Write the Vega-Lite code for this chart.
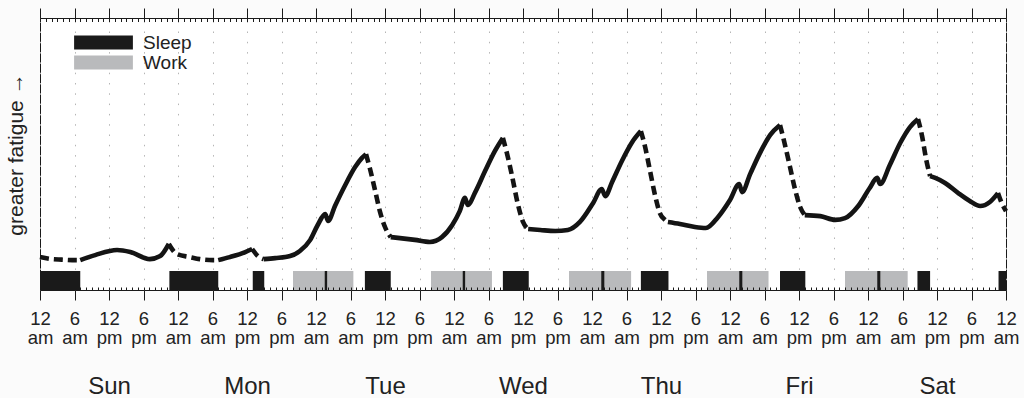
{
  "$schema": "https://vega.github.io/schema/vega-lite/v6.json",
  "background": "#fbfbfb",
  "padding": {"left": 5, "top": 7, "right": 5, "bottom": 0},
  "width": 966,
  "height": 272,
  "config": {
    "font": "Liberation Sans",
    "view": {"stroke": "#1a1a1a", "strokeWidth": 1, "fill": "white"},
    "axis": {"tickColor": "#1a1a1a", "tickWidth": 1, "domain": false, "labelColor": "#222", "titleColor": "#222", "titleFontWeight": "normal", "labelFont": "Liberation Sans", "titleFont": "Liberation Sans"}
  },
  "datasets": {
    "fatigue": [
      {"hour": 0, "fatigue": 0.55, "segment": 1, "state": "asleep"},
      {"hour": 2.1, "fatigue": 0.47, "segment": 1, "state": "asleep"},
      {"hour": 3.8, "fatigue": 0.45, "segment": 1, "state": "asleep"},
      {"hour": 5.6, "fatigue": 0.43, "segment": 1, "state": "asleep"},
      {"hour": 7, "fatigue": 0.43, "segment": 1, "state": "asleep"},
      {"hour": 7, "fatigue": 0.43, "segment": 2, "state": "awake"},
      {"hour": 9.6, "fatigue": 0.63, "segment": 2, "state": "awake"},
      {"hour": 13.4, "fatigue": 0.83, "segment": 2, "state": "awake"},
      {"hour": 15.7, "fatigue": 0.75, "segment": 2, "state": "awake"},
      {"hour": 19.1, "fatigue": 0.47, "segment": 2, "state": "awake"},
      {"hour": 20.9, "fatigue": 0.59, "segment": 2, "state": "awake"},
      {"hour": 22.4, "fatigue": 1.07, "segment": 2, "state": "awake"},
      {"hour": 22.4, "fatigue": 1.07, "segment": 3, "state": "asleep"},
      {"hour": 23.8, "fatigue": 0.67, "segment": 3, "state": "asleep"},
      {"hour": 26.1, "fatigue": 0.55, "segment": 3, "state": "asleep"},
      {"hour": 27.8, "fatigue": 0.47, "segment": 3, "state": "asleep"},
      {"hour": 30.1, "fatigue": 0.43, "segment": 3, "state": "asleep"},
      {"hour": 31, "fatigue": 0.43, "segment": 3, "state": "asleep"},
      {"hour": 31, "fatigue": 0.43, "segment": 4, "state": "awake"},
      {"hour": 33, "fatigue": 0.55, "segment": 4, "state": "awake"},
      {"hour": 35.7, "fatigue": 0.75, "segment": 4, "state": "awake"},
      {"hour": 36.9, "fatigue": 0.87, "segment": 4, "state": "awake"},
      {"hour": 36.9, "fatigue": 0.87, "segment": 5, "state": "asleep"},
      {"hour": 37.9, "fatigue": 0.59, "segment": 5, "state": "asleep"},
      {"hour": 38.9, "fatigue": 0.47, "segment": 5, "state": "asleep"},
      {"hour": 38.9, "fatigue": 0.47, "segment": 6, "state": "awake"},
      {"hour": 40.9, "fatigue": 0.51, "segment": 6, "state": "awake"},
      {"hour": 43.5, "fatigue": 0.59, "segment": 6, "state": "awake"},
      {"hour": 45.2, "fatigue": 0.79, "segment": 6, "state": "awake"},
      {"hour": 47, "fatigue": 1.23, "segment": 6, "state": "awake"},
      {"hour": 48.3, "fatigue": 1.82, "segment": 6, "state": "awake"},
      {"hour": 49.6, "fatigue": 2.25, "segment": 6, "state": "awake"},
      {"hour": 50.1, "fatigue": 1.98, "segment": 6, "state": "awake"},
      {"hour": 51.3, "fatigue": 2.57, "segment": 6, "state": "awake"},
      {"hour": 53, "fatigue": 3.36, "segment": 6, "state": "awake"},
      {"hour": 54.8, "fatigue": 4.11, "segment": 6, "state": "awake"},
      {"hour": 56, "fatigue": 4.47, "segment": 6, "state": "awake"},
      {"hour": 56.7, "fatigue": 4.62, "segment": 6, "state": "awake"},
      {"hour": 56.7, "fatigue": 4.62, "segment": 7, "state": "asleep"},
      {"hour": 57.4, "fatigue": 4.03, "segment": 7, "state": "asleep"},
      {"hour": 58.3, "fatigue": 3.16, "segment": 7, "state": "asleep"},
      {"hour": 59.1, "fatigue": 2.37, "segment": 7, "state": "asleep"},
      {"hour": 60, "fatigue": 1.74, "segment": 7, "state": "asleep"},
      {"hour": 61, "fatigue": 1.34, "segment": 7, "state": "asleep"},
      {"hour": 61, "fatigue": 1.34, "segment": 8, "state": "awake"},
      {"hour": 62.6, "fatigue": 1.30, "segment": 8, "state": "awake"},
      {"hour": 65.2, "fatigue": 1.23, "segment": 8, "state": "awake"},
      {"hour": 67.8, "fatigue": 1.15, "segment": 8, "state": "awake"},
      {"hour": 69.9, "fatigue": 1.34, "segment": 8, "state": "awake"},
      {"hour": 71.7, "fatigue": 1.82, "segment": 8, "state": "awake"},
      {"hour": 73, "fatigue": 2.37, "segment": 8, "state": "awake"},
      {"hour": 73.9, "fatigue": 2.89, "segment": 8, "state": "awake"},
      {"hour": 74.4, "fatigue": 2.61, "segment": 8, "state": "awake"},
      {"hour": 75.7, "fatigue": 3.12, "segment": 8, "state": "awake"},
      {"hour": 77.4, "fatigue": 3.95, "segment": 8, "state": "awake"},
      {"hour": 79.1, "fatigue": 4.74, "segment": 8, "state": "awake"},
      {"hour": 80.5, "fatigue": 5.26, "segment": 8, "state": "awake"},
      {"hour": 80.5, "fatigue": 5.26, "segment": 9, "state": "asleep"},
      {"hour": 81.2, "fatigue": 4.66, "segment": 9, "state": "asleep"},
      {"hour": 82.1, "fatigue": 3.75, "segment": 9, "state": "asleep"},
      {"hour": 83.1, "fatigue": 2.65, "segment": 9, "state": "asleep"},
      {"hour": 84, "fatigue": 1.94, "segment": 9, "state": "asleep"},
      {"hour": 84.9, "fatigue": 1.66, "segment": 9, "state": "asleep"},
      {"hour": 84.9, "fatigue": 1.66, "segment": 10, "state": "awake"},
      {"hour": 87, "fatigue": 1.62, "segment": 10, "state": "awake"},
      {"hour": 89.6, "fatigue": 1.58, "segment": 10, "state": "awake"},
      {"hour": 91.8, "fatigue": 1.62, "segment": 10, "state": "awake"},
      {"hour": 93.9, "fatigue": 1.94, "segment": 10, "state": "awake"},
      {"hour": 96.2, "fatigue": 2.69, "segment": 10, "state": "awake"},
      {"hour": 97.7, "fatigue": 3.24, "segment": 10, "state": "awake"},
      {"hour": 98.3, "fatigue": 2.96, "segment": 10, "state": "awake"},
      {"hour": 99.5, "fatigue": 3.52, "segment": 10, "state": "awake"},
      {"hour": 101.2, "fatigue": 4.35, "segment": 10, "state": "awake"},
      {"hour": 103, "fatigue": 5.10, "segment": 10, "state": "awake"},
      {"hour": 104.5, "fatigue": 5.53, "segment": 10, "state": "awake"},
      {"hour": 104.5, "fatigue": 5.53, "segment": 11, "state": "asleep"},
      {"hour": 105.2, "fatigue": 4.94, "segment": 11, "state": "asleep"},
      {"hour": 106.1, "fatigue": 3.95, "segment": 11, "state": "asleep"},
      {"hour": 107, "fatigue": 2.96, "segment": 11, "state": "asleep"},
      {"hour": 107.8, "fatigue": 2.29, "segment": 11, "state": "asleep"},
      {"hour": 108.7, "fatigue": 2.02, "segment": 11, "state": "asleep"},
      {"hour": 109.2, "fatigue": 1.94, "segment": 11, "state": "asleep"},
      {"hour": 109.2, "fatigue": 1.94, "segment": 12, "state": "awake"},
      {"hour": 111.3, "fatigue": 1.86, "segment": 12, "state": "awake"},
      {"hour": 113.9, "fatigue": 1.74, "segment": 12, "state": "awake"},
      {"hour": 115.8, "fatigue": 1.70, "segment": 12, "state": "awake"},
      {"hour": 117.9, "fatigue": 2.13, "segment": 12, "state": "awake"},
      {"hour": 120, "fatigue": 2.81, "segment": 12, "state": "awake"},
      {"hour": 121.6, "fatigue": 3.44, "segment": 12, "state": "awake"},
      {"hour": 122.1, "fatigue": 3.12, "segment": 12, "state": "awake"},
      {"hour": 123.5, "fatigue": 3.83, "segment": 12, "state": "awake"},
      {"hour": 125.2, "fatigue": 4.66, "segment": 12, "state": "awake"},
      {"hour": 127, "fatigue": 5.38, "segment": 12, "state": "awake"},
      {"hour": 128.7, "fatigue": 5.77, "segment": 12, "state": "awake"},
      {"hour": 128.7, "fatigue": 5.77, "segment": 13, "state": "asleep"},
      {"hour": 129.4, "fatigue": 5.14, "segment": 13, "state": "asleep"},
      {"hour": 130.4, "fatigue": 4.15, "segment": 13, "state": "asleep"},
      {"hour": 131.3, "fatigue": 3.24, "segment": 13, "state": "asleep"},
      {"hour": 132.2, "fatigue": 2.53, "segment": 13, "state": "asleep"},
      {"hour": 133, "fatigue": 2.21, "segment": 13, "state": "asleep"},
      {"hour": 133, "fatigue": 2.21, "segment": 14, "state": "awake"},
      {"hour": 135.7, "fatigue": 2.17, "segment": 14, "state": "awake"},
      {"hour": 138.3, "fatigue": 2.02, "segment": 14, "state": "awake"},
      {"hour": 140, "fatigue": 2.09, "segment": 14, "state": "awake"},
      {"hour": 142.3, "fatigue": 2.57, "segment": 14, "state": "awake"},
      {"hour": 144.3, "fatigue": 3.28, "segment": 14, "state": "awake"},
      {"hour": 145.6, "fatigue": 3.68, "segment": 14, "state": "awake"},
      {"hour": 146.1, "fatigue": 3.44, "segment": 14, "state": "awake"},
      {"hour": 147.8, "fatigue": 4.19, "segment": 14, "state": "awake"},
      {"hour": 149.6, "fatigue": 5.06, "segment": 14, "state": "awake"},
      {"hour": 151.3, "fatigue": 5.69, "segment": 14, "state": "awake"},
      {"hour": 152.7, "fatigue": 6.01, "segment": 14, "state": "awake"},
      {"hour": 152.7, "fatigue": 6.01, "segment": 15, "state": "asleep"},
      {"hour": 153.4, "fatigue": 5.34, "segment": 15, "state": "asleep"},
      {"hour": 154.1, "fatigue": 4.43, "segment": 15, "state": "asleep"},
      {"hour": 154.8, "fatigue": 3.75, "segment": 15, "state": "asleep"},
      {"hour": 154.8, "fatigue": 3.75, "segment": 16, "state": "awake"},
      {"hour": 155.7, "fatigue": 3.68, "segment": 16, "state": "awake"},
      {"hour": 157.4, "fatigue": 3.48, "segment": 16, "state": "awake"},
      {"hour": 159.7, "fatigue": 3.08, "segment": 16, "state": "awake"},
      {"hour": 161.7, "fatigue": 2.77, "segment": 16, "state": "awake"},
      {"hour": 163.5, "fatigue": 2.57, "segment": 16, "state": "awake"},
      {"hour": 165.2, "fatigue": 2.73, "segment": 16, "state": "awake"},
      {"hour": 166.6, "fatigue": 3.08, "segment": 16, "state": "awake"},
      {"hour": 166.6, "fatigue": 3.08, "segment": 17, "state": "asleep"},
      {"hour": 167.1, "fatigue": 2.77, "segment": 17, "state": "asleep"},
      {"hour": 168, "fatigue": 2.37, "segment": 17, "state": "asleep"}
    ],
    "activity": [
      {"start": 0, "end": 7, "activity": "Sleep"},
      {"start": 22.5, "end": 31, "activity": "Sleep"},
      {"start": 37, "end": 39, "activity": "Sleep"},
      {"start": 44, "end": 49.5, "activity": "Work"},
      {"start": 49.5, "end": 50, "activity": "Sleep"},
      {"start": 50, "end": 54.5, "activity": "Work"},
      {"start": 56.5, "end": 61, "activity": "Sleep"},
      {"start": 68, "end": 73.5, "activity": "Work"},
      {"start": 73.5, "end": 74, "activity": "Sleep"},
      {"start": 74, "end": 78.6, "activity": "Work"},
      {"start": 80.5, "end": 85, "activity": "Sleep"},
      {"start": 92, "end": 97.6, "activity": "Work"},
      {"start": 97.6, "end": 98.2, "activity": "Sleep"},
      {"start": 98.2, "end": 102.8, "activity": "Work"},
      {"start": 104.5, "end": 109.3, "activity": "Sleep"},
      {"start": 116, "end": 121.6, "activity": "Work"},
      {"start": 121.6, "end": 122.2, "activity": "Sleep"},
      {"start": 122.2, "end": 126.7, "activity": "Work"},
      {"start": 128.7, "end": 133.1, "activity": "Sleep"},
      {"start": 140, "end": 145.6, "activity": "Work"},
      {"start": 145.6, "end": 146.2, "activity": "Sleep"},
      {"start": 146.2, "end": 150.9, "activity": "Work"},
      {"start": 152.6, "end": 154.8, "activity": "Sleep"},
      {"start": 166.7, "end": 168, "activity": "Sleep"}
    ]
  },
  "resolve": {"axis": {"x": "independent"}},
  "layer": [
    {
      "data": {"name": "activity"},
      "mark": {"type": "rect"},
      "encoding": {
        "x": {
          "field": "start", "type": "quantitative",
          "scale": {"domain": [0, 168], "nice": false, "zero": false},
          "axis": {"orient": "bottom", "values": [0, 6, 12, 18, 24, 30, 36, 42, 48, 54, 60, 66, 72, 78, 84, 90, 96, 102, 108, 114, 120, 126, 132, 138, 144, 150, 156, 162, 168], "tickSize": 10, "grid": false, "title": null, "labelFontSize": 18.5, "labelLineHeight": 19, "labelPadding": 9, "labelFlush": false, "labelOverlap": false, "labelBaseline": "top", "labelExpr": "[datum.value % 12 == 0 ? '12' : '6', datum.value % 24 < 12 ? 'am' : 'pm']"}
        },
        "x2": {"field": "end"},
        "y": {
          "datum": 0, "type": "quantitative",
          "scale": {"domain": [-0.75, 10], "nice": false, "zero": false},
          "axis": {"title": "greater fatigue \u2192", "ticks": false, "labels": false, "grid": false, "titleFontSize": 21, "titlePadding": 14}
        },
        "y2": {"datum": -0.75},
        "color": {
          "field": "activity", "type": "nominal",
          "scale": {"domain": ["Sleep", "Work"], "range": ["#1a1a1a", "#b9babc"]},
          "legend": {"orient": "none", "legendX": 54, "legendY": 15, "title": null, "symbolType": "M-4.2,-1H4.2V1H-4.2Z", "symbolSize": 196, "symbolStrokeWidth": 0, "symbolOpacity": 1, "labelFontSize": 19, "labelColor": "#222", "labelOffset": 30, "rowPadding": 0, "padding": 0}
        }
      }
    },
    {
      "data": {"name": "fatigue"},
      "transform": [{"filter": "datum.state == 'awake'"}],
      "mark": {"type": "line", "color": "#141414", "strokeWidth": 4.6, "interpolate": "monotone", "strokeCap": "butt", "strokeJoin": "round"},
      "encoding": {
        "x": {
          "field": "hour", "type": "quantitative",
          "axis": {"orient": "top", "values": [0, 6, 12, 18, 24, 30, 36, 42, 48, 54, 60, 66, 72, 78, 84, 90, 96, 102, 108, 114, 120, 126, 132, 138, 144, 150, 156, 162, 168], "tickSize": 10, "labels": false, "grid": true, "gridDash": [1.5, 8.8], "gridColor": "#b5b5b5", "gridWidth": 1, "title": null}
        },
        "y": {
          "field": "fatigue", "type": "quantitative",
          "axis": {"title": "greater fatigue \u2192", "ticks": false, "labels": false, "grid": false, "titleFontSize": 21, "titlePadding": 14}
        },
        "detail": {"field": "segment"}
      }
    },
    {
      "data": {"name": "fatigue"},
      "transform": [{"filter": "datum.state == 'asleep'"}],
      "mark": {"type": "line", "color": "#141414", "strokeWidth": 4.6, "interpolate": "monotone", "strokeCap": "butt", "strokeDash": [9, 5]},
      "encoding": {
        "x": {
          "field": "hour", "type": "quantitative",
          "axis": {"orient": "top", "values": [0,1,2,3,4,5,6,7,8,9,10,11,12,13,14,15,16,17,18,19,20,21,22,23,24,25,26,27,28,29,30,31,32,33,34,35,36,37,38,39,40,41,42,43,44,45,46,47,48,49,50,51,52,53,54,55,56,57,58,59,60,61,62,63,64,65,66,67,68,69,70,71,72,73,74,75,76,77,78,79,80,81,82,83,84,85,86,87,88,89,90,91,92,93,94,95,96,97,98,99,100,101,102,103,104,105,106,107,108,109,110,111,112,113,114,115,116,117,118,119,120,121,122,123,124,125,126,127,128,129,130,131,132,133,134,135,136,137,138,139,140,141,142,143,144,145,146,147,148,149,150,151,152,153,154,155,156,157,158,159,160,161,162,163,164,165,166,167,168], "tickSize": -3.5, "labels": false, "grid": false, "title": null, "zindex": 1}
        },
        "y": {
          "field": "fatigue", "type": "quantitative",
          "axis": {"title": "greater fatigue \u2192", "ticks": false, "labels": false, "grid": false, "titleFontSize": 21, "titlePadding": 14}
        },
        "detail": {"field": "segment"}
      }
    },
    {
      "mark": {"type": "rule", "color": "#1a1a1a", "strokeWidth": 1},
      "encoding": {
        "x": {
          "datum": 0, "type": "quantitative",
          "axis": {"orient": "bottom", "values": [0,1,2,3,4,5,6,7,8,9,10,11,12,13,14,15,16,17,18,19,20,21,22,23,24,25,26,27,28,29,30,31,32,33,34,35,36,37,38,39,40,41,42,43,44,45,46,47,48,49,50,51,52,53,54,55,56,57,58,59,60,61,62,63,64,65,66,67,68,69,70,71,72,73,74,75,76,77,78,79,80,81,82,83,84,85,86,87,88,89,90,91,92,93,94,95,96,97,98,99,100,101,102,103,104,105,106,107,108,109,110,111,112,113,114,115,116,117,118,119,120,121,122,123,124,125,126,127,128,129,130,131,132,133,134,135,136,137,138,139,140,141,142,143,144,145,146,147,148,149,150,151,152,153,154,155,156,157,158,159,160,161,162,163,164,165,166,167,168], "tickSize": -3, "grid": false, "title": null, "zindex": 1, "labelFontSize": 24, "labelPadding": 87, "labelBaseline": "top", "labelFlush": false, "labelOverlap": false, "labelBound": false, "labelExpr": "datum.value % 24 == 12 ? ['Sun','Mon','Tue','Wed','Thu','Fri','Sat'][floor(datum.value / 24)] : ''"}
        },
        "x2": {"datum": 168},
        "y": {
          "datum": 0, "type": "quantitative",
          "axis": {"title": "greater fatigue \u2192", "ticks": false, "labels": false, "grid": false, "titleFontSize": 21, "titlePadding": 14}
        }
      }
    }
  ]
}
